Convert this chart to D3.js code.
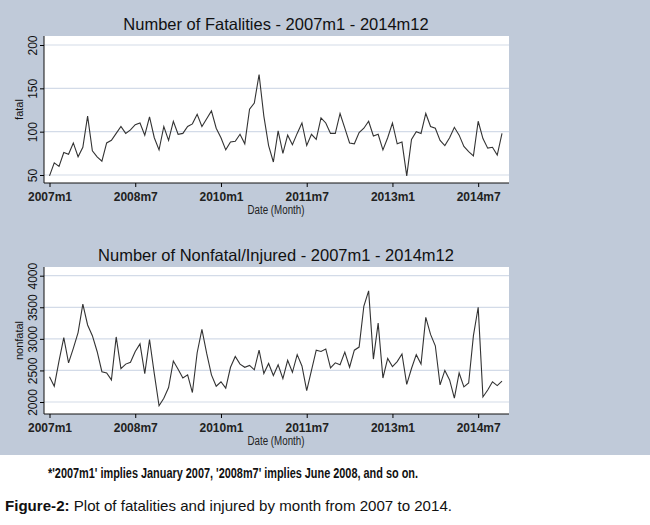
<!DOCTYPE html>
<html><head><meta charset="utf-8">
<script src="https://cdn.jsdelivr.net/npm/d3@7"></script>
<style>body{margin:0;background:#fff}svg{display:block}</style>
</head><body>
<script>
// Monthly series 2007m1 .. 2014m12 (96 months)
const fatal = [49,64,60,76,74,87,71,82,118,78,71,66,87,90,98,106,98,102,108,110,96,117,93,79,106,90,112,97,98,106,109,120,106,115,124,104,93,79,88,89,97,86,126,133,166,118,84,65,101,75,96,85,98,110,84,97,91,116,110,98,98,121,104,87,86,99,104,112,95,97,79,93,110,86,88,49,91,100,98,121,106,104,90,84,93,105,96,83,77,72,112,92,81,82,73,98];
const nonfatal = [2400,2250,2650,3020,2620,2850,3100,3550,3220,3050,2800,2480,2460,2350,3030,2530,2600,2630,2800,2920,2450,2990,2450,1940,2060,2230,2650,2520,2380,2430,2150,2780,3150,2770,2430,2250,2320,2220,2550,2720,2600,2550,2580,2510,2820,2450,2610,2420,2590,2370,2660,2470,2750,2570,2180,2500,2820,2800,2840,2540,2620,2590,2790,2550,2820,2870,3520,3760,2680,3250,2380,2690,2560,2640,2760,2280,2530,2750,2600,3340,3070,2890,2270,2500,2350,2060,2460,2240,2300,3050,3500,2080,2190,2320,2260,2330];
const xTicks = [0, 18, 36, 54, 72, 90];
const xTickLabels = ["2007m1","2008m7","2010m1","2011m7","2013m1","2014m7"];
const fatalTicks = [50,100,150,200];
const nonfatalTicks = [2000,2500,3000,3500,4000];

const W = 650, H = 525;
const svg = d3.select("body").append("svg").attr("width", W).attr("height", H);
svg.append("rect").attr("width", W).attr("height", 455).attr("fill", "#c0cad9");

const x = d3.scaleLinear().domain([0, 95]).range([49.5, 502]);

function panel(opt) {
  const {data, ticks, y, title, ylab, top, axisY, titleY} = opt;
  svg.append("rect").attr("x", 44).attr("y", top).attr("width", 465).attr("height", axisY - top).attr("fill", "#fff");
  svg.append("text").attr("x", 276).attr("y", titleY).attr("text-anchor", "middle")
    .attr("font-family", "Liberation Sans, Arial").attr("font-size", 16.5).attr("fill", "#111").text(title);
  // grid
  svg.append("g").selectAll("line").data(ticks).join("line")
    .attr("x1", 44).attr("x2", 509).attr("y1", d => y(d)).attr("y2", d => y(d))
    .attr("stroke", "#d3dbe8").attr("stroke-width", 1.2);
  // y axis
  const ya = svg.append("g").attr("transform", "translate(44,0)")
    .call(d3.axisLeft(y).tickValues(ticks).tickSize(4).tickFormat(d3.format("d")));
  ya.select(".domain").attr("d", `M0,${top}V${axisY}`).attr("stroke", "#111");
  ya.selectAll(".tick text").attr("x", 0).attr("y", 0).attr("dy", 0)
    .attr("transform", "translate(-7,0) rotate(-90)").attr("text-anchor", "middle")
    .attr("font-family", "Liberation Sans, Arial").attr("font-size", 12).attr("fill", "#111");
  // x axis
  const xa = svg.append("g").attr("transform", `translate(0,${axisY})`)
    .call(d3.axisBottom(x).tickValues(xTicks).tickSize(4).tickFormat((d, i) => xTickLabels[i]));
  xa.select(".domain").attr("d", `M44,0H509`).attr("stroke", "#111");
  xa.selectAll("text").attr("font-family", "Liberation Sans, Arial").attr("font-size", 12)
    .attr("font-weight", "bold").attr("fill", "#222").attr("dy", "0.9em");
  svg.append("text").attr("x", 276).attr("y", axisY + 31).attr("text-anchor", "middle")
    .attr("font-family", "Liberation Sans, Arial").attr("font-size", 12).attr("fill", "#222")
    .attr("textLength", 57).attr("lengthAdjust", "spacingAndGlyphs").text("Date (Month)");
  svg.append("text").attr("transform", `translate(23,${(top + axisY) / 2}) rotate(-90)`).attr("text-anchor", "middle")
    .attr("font-family", "Liberation Sans, Arial").attr("font-size", 11).attr("fill", "#111").text(ylab);
  svg.append("path").datum(data).attr("fill", "none").attr("stroke", "#333").attr("stroke-width", 1.1)
    .attr("d", d3.line().x((d, i) => x(i)).y(d => y(d)));
}

panel({data: fatal, ticks: fatalTicks, y: d3.scaleLinear().domain([50, 200]).range([175, 45]),
  title: "Number of Fatalities - 2007m1 - 2014m12", ylab: "fatal", top: 36, axisY: 183, titleY: 30});
panel({data: nonfatal, ticks: nonfatalTicks, y: d3.scaleLinear().domain([2000, 4000]).range([402, 275.7]),
  title: "Number of Nonfatal/Injured - 2007m1 - 2014m12", ylab: "nonfatal", top: 267, axisY: 414, titleY: 261});

svg.append("text").attr("x", 48).attr("y", 478)
  .attr("font-family", "Liberation Sans, Arial").attr("font-weight", "bold").attr("font-size", 14).attr("fill", "#111")
  .attr("textLength", 370).attr("lengthAdjust", "spacingAndGlyphs")
  .text("*'2007m1' implies January 2007, '2008m7' implies June 2008, and so on.");
const cap = svg.append("text").attr("x", 5).attr("y", 511)
  .attr("font-family", "Liberation Sans, Arial").attr("font-size", 15).attr("fill", "#111")
  .attr("textLength", 447).attr("lengthAdjust", "spacingAndGlyphs");
cap.append("tspan").attr("font-weight", "bold").text("Figure-2:");
cap.append("tspan").text(" Plot of fatalities and injured by month from 2007 to 2014.");
</script>
</body></html>
